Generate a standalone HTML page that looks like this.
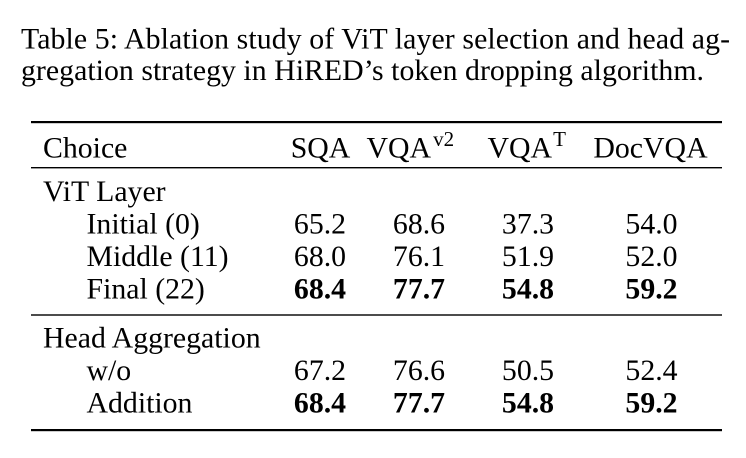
<!DOCTYPE html>
<html>
<head>
<meta charset="utf-8">
<style>
  html, body { margin: 0; padding: 0; background: #fff; }
  body { width: 746px; height: 458px; overflow: hidden; }
  svg { display: block; }
  text { font-family: "Liberation Serif", "Times New Roman", serif; fill: #000; }
</style>
</head>
<body>
<svg width="746" height="458" viewBox="0 0 746 458" xmlns="http://www.w3.org/2000/svg">
  <rect x="0" y="0" width="746" height="458" fill="#fff"/>

  <!-- Caption -->
  <text x="21" y="48.3" font-size="29.8" textLength="709" lengthAdjust="spacing">Table 5: Ablation study of ViT layer selection and head ag-</text>
  <text x="21" y="80" font-size="29.8" textLength="683" lengthAdjust="spacing">gregation strategy in HiRED’s token dropping algorithm.</text>

  <!-- Rules -->
  <rect x="31" y="121" width="691" height="2.2" fill="#000"/>
  <rect x="31" y="167" width="691" height="1.4" fill="#000"/>
  <rect x="31" y="314.3" width="691" height="1.4" fill="#000"/>
  <rect x="31" y="429" width="691" height="2.2" fill="#000"/>

  <!-- Header -->
  <g font-size="29.8">
    <text x="43" y="157.5">Choice</text>
    <text x="320.5" y="157.5" text-anchor="middle">SQA</text>
    <text x="366.5" y="157.5">VQA<tspan font-size="21" dx="2" dy="-11.5">v2</tspan></text>
    <text x="487.5" y="157.5">VQA<tspan font-size="21" dx="1" dy="-11.5">T</tspan></text>
    <text x="650.5" y="157.5" text-anchor="middle">DocVQA</text>
  </g>

  <!-- ViT Layer group -->
  <g font-size="29.8">
    <text x="43" y="201">ViT Layer</text>

    <text x="86.5" y="233.5">Initial (0)</text>
    <text x="320" y="233.5" text-anchor="middle">65.2</text>
    <text x="419" y="233.5" text-anchor="middle">68.6</text>
    <text x="528" y="233.5" text-anchor="middle">37.3</text>
    <text x="651.5" y="233.5" text-anchor="middle">54.0</text>

    <text x="86.5" y="266">Middle (11)</text>
    <text x="320" y="266" text-anchor="middle">68.0</text>
    <text x="419" y="266" text-anchor="middle">76.1</text>
    <text x="528" y="266" text-anchor="middle">51.9</text>
    <text x="651.5" y="266" text-anchor="middle">52.0</text>

    <text x="86.5" y="298.5">Final (22)</text>
    <text x="320" y="298.5" text-anchor="middle" font-weight="bold">68.4</text>
    <text x="419" y="298.5" text-anchor="middle" font-weight="bold">77.7</text>
    <text x="528" y="298.5" text-anchor="middle" font-weight="bold">54.8</text>
    <text x="651.5" y="298.5" text-anchor="middle" font-weight="bold">59.2</text>
  </g>

  <!-- Head Aggregation group -->
  <g font-size="29.8">
    <text x="43" y="347.5">Head Aggregation</text>

    <text x="86.5" y="380">w/o</text>
    <text x="320" y="380" text-anchor="middle">67.2</text>
    <text x="419" y="380" text-anchor="middle">76.6</text>
    <text x="528" y="380" text-anchor="middle">50.5</text>
    <text x="651.5" y="380" text-anchor="middle">52.4</text>

    <text x="86.5" y="412.5">Addition</text>
    <text x="320" y="412.5" text-anchor="middle" font-weight="bold">68.4</text>
    <text x="419" y="412.5" text-anchor="middle" font-weight="bold">77.7</text>
    <text x="528" y="412.5" text-anchor="middle" font-weight="bold">54.8</text>
    <text x="651.5" y="412.5" text-anchor="middle" font-weight="bold">59.2</text>
  </g>
</svg>
</body>
</html>
